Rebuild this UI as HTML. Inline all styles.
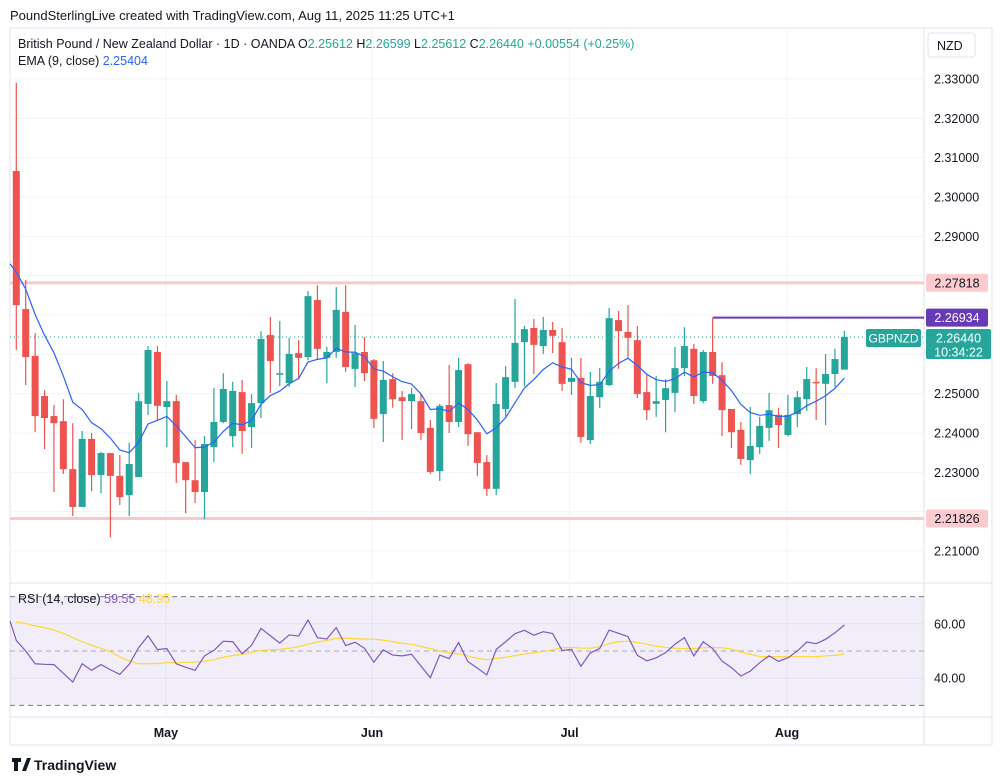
<!DOCTYPE html>
<html><head><meta charset="utf-8">
<style>
body{margin:0;background:#fff;font-family:"Liberation Sans",sans-serif;}
#wrap{position:relative;width:1006px;height:781px;overflow:hidden;background:#fff}
svg text{font-family:"Liberation Sans",sans-serif}
</style></head><body>
<div id="wrap">
<svg id="chart" width="1006" height="781"></svg>
</div>
<script>
const opens =[2.3066,2.2715,2.2596,2.2494,2.2443,2.2430,2.2308,2.2212,2.2385,2.2293,2.2349,2.2291,2.2242,2.2288,2.2474,2.2606,2.2466,2.2481,2.2326,2.2280,2.2250,2.2364,2.2428,2.2392,2.2504,2.2415,2.2476,2.2649,2.2552,2.2527,2.2603,2.2593,2.2738,2.2591,2.2606,2.2708,2.2563,2.2606,2.2585,2.2448,2.2537,2.2491,2.2481,2.2481,2.2413,2.2303,2.2471,2.2428,2.2575,2.2402,2.2326,2.2258,2.2461,2.2530,2.2631,2.2667,2.2621,2.2662,2.2631,2.2530,2.2540,2.2382,2.2491,2.2522,2.2687,2.2657,2.2636,2.2504,2.2474,2.2484,2.2502,2.2565,2.2614,2.2481,2.2606,2.2547,2.2461,2.2408,2.2331,2.2364,2.2413,2.2446,2.2395,2.2448,2.2486,2.2530,2.2525,2.2550,2.25612];
const highs =[2.3290,2.2789,2.2654,2.2509,2.2471,2.2486,2.2425,2.2405,2.2400,2.2352,2.2349,2.2344,2.2375,2.2502,2.2621,2.2621,2.2532,2.2497,2.2326,2.2382,2.2392,2.2514,2.2552,2.2530,2.2535,2.2499,2.2659,2.2695,2.2685,2.2642,2.2636,2.2761,2.2776,2.2619,2.2771,2.2776,2.2675,2.2644,2.2588,2.2583,2.2552,2.2507,2.2514,2.2499,2.2433,2.2474,2.2573,2.2591,2.2578,2.2402,2.2344,2.2527,2.2570,2.2741,2.2672,2.2690,2.2695,2.2682,2.2667,2.2591,2.2591,2.2555,2.2565,2.2718,2.2710,2.2725,2.2672,2.2552,2.2545,2.2537,2.2619,2.2669,2.2626,2.2611,2.2692,2.2580,2.2461,2.2428,2.2466,2.2441,2.2502,2.2464,2.2497,2.2507,2.2568,2.2565,2.2601,2.2614,2.26599];
const lows  =[2.2611,2.2522,2.2402,2.2359,2.2250,2.2296,2.2189,2.2212,2.2252,2.2247,2.2135,2.2217,2.2189,2.2288,2.2446,2.2433,2.2364,2.2273,2.2196,2.2222,2.2181,2.2326,2.2425,2.2364,2.2347,2.2362,2.2438,2.2502,2.2519,2.2517,2.2537,2.2585,2.2588,2.2527,2.2591,2.2555,2.2517,2.2532,2.2413,2.2377,2.2464,2.2382,2.2410,2.2382,2.2296,2.2278,2.2400,2.2415,2.2367,2.2291,2.2240,2.2242,2.2443,2.2514,2.2519,2.2550,2.2601,2.2603,2.2507,2.2497,2.2375,2.2372,2.2464,2.2519,2.2563,2.2591,2.2489,2.2433,2.2441,2.2402,2.2453,2.2545,2.2474,2.2476,2.2525,2.2392,2.2362,2.2319,2.2296,2.2347,2.2380,2.2362,2.2392,2.2415,2.2456,2.2433,2.2420,2.2517,2.25612];
const closes=[2.2725,2.2593,2.2443,2.2438,2.2425,2.2308,2.2212,2.2385,2.2293,2.2349,2.2291,2.2237,2.2321,2.2481,2.2611,2.2469,2.2481,2.2324,2.2280,2.2250,2.2372,2.2428,2.2512,2.2507,2.2405,2.2476,2.2639,2.2583,2.2552,2.2601,2.2591,2.2748,2.2614,2.2606,2.2713,2.2568,2.2603,2.2552,2.2436,2.2535,2.2486,2.2481,2.2499,2.2400,2.2301,2.2469,2.2428,2.2560,2.2397,2.2324,2.2258,2.2474,2.2542,2.2629,2.2664,2.2624,2.2662,2.2647,2.2525,2.2540,2.2390,2.2494,2.2530,2.2692,2.2659,2.2642,2.2499,2.2458,2.2481,2.2514,2.2565,2.2621,2.2494,2.2606,2.2545,2.2458,2.2402,2.2334,2.2367,2.2418,2.2458,2.2420,2.2446,2.2491,2.2537,2.2527,2.2550,2.2588,2.26440];
const emaSeed = 2.2830;
const rsiValues=[53.9,50.0,45.3,45.1,45.0,41.8,38.6,45.3,42.9,45.0,43.1,41.4,45.1,51.2,55.6,50.5,50.9,45.3,44.0,42.9,48.2,50.2,53.6,53.4,49.0,52.1,58.3,55.6,52.9,55.9,55.5,61.4,54.9,54.4,58.6,52.0,53.2,51.0,45.9,50.4,48.5,48.2,48.8,44.5,40.2,48.5,47.2,53.1,46.1,43.7,41.2,50.6,53.4,56.4,57.6,55.8,57.1,56.4,50.2,50.6,44.4,49.3,50.9,57.7,56.5,55.3,48.4,46.4,47.5,49.4,52.5,54.9,48.2,53.4,50.9,46.3,43.9,40.8,42.6,45.7,48.2,46.2,47.5,50.0,53.3,52.7,54.3,56.7,59.55];
const rsiMA=[60.7,60.1,59.2,58.6,57.7,56.5,54.9,53.4,52.1,51.0,49.8,47.8,46.3,45.3,45.3,45.4,45.7,45.7,45.8,45.9,46.3,46.8,47.7,48.3,48.8,49.5,50.2,50.4,50.6,51.0,51.6,52.5,53.3,53.9,54.7,54.7,54.5,54.4,54.3,54.0,53.4,52.8,52.5,51.7,50.9,50.0,49.4,49.0,48.2,47.3,46.8,47.2,47.7,48.3,48.9,49.4,49.8,50.4,51.2,51.3,51.1,51.0,51.6,52.7,53.4,53.6,53.1,52.5,51.8,51.3,51.0,50.9,50.9,51.2,51.3,51.2,50.7,49.6,48.8,48.0,47.9,47.9,47.9,47.9,47.9,47.9,48.2,48.4,48.95];
const rsiStart=61.0;
const priceTicks=[2.21,2.22,2.23,2.24,2.25,2.26,2.27,2.28,2.29,2.30,2.31,2.32,2.33];
const hiddenTicks=[2.22,2.26,2.27,2.28];
const rsiTicks=[60,40];
const monthLabels=["May","Jun","Jul","Aug"];
const monthIndex=[15.9,37.8,58.8,81.9];
const levels=[2.27818,2.21826];
const purpleLevel=2.26934, purpleStart=75;

const NS="http://www.w3.org/2000/svg";
const svg=document.getElementById('chart');
function el(t,a,p){const e=document.createElementNS(NS,t);for(const k in a)e.setAttribute(k,a[k]);(p||svg).appendChild(e);return e;}
const X0=16.3, DX=9.41;
const xs=i=>X0+i*DX;
const y=p=>79+(2.33-p)*3933.3;
const ry=v=>651-(v-50)*2.72;
const R=924;

let g=el('g',{});
el('rect',{x:10,y:28,width:982,height:717,fill:'none',stroke:'#e0e3eb'},g);
el('line',{x1:R,y1:28,x2:R,y2:745,stroke:'#e0e3eb'},g);
el('line',{x1:10,y1:583,x2:992,y2:583,stroke:'#e0e3eb'},g);
el('line',{x1:10,y1:717,x2:992,y2:717,stroke:'#e0e3eb'},g);
priceTicks.forEach(p=>{
  const l=el('line',{x1:10,y1:y(p),x2:R,y2:y(p),stroke:'#f0f3fa'});
  
  if(!hiddenTicks.includes(p)){const t=el('text',{x:934,y:y(p)+4.5,'font-size':12.5,fill:'#131722'});t.textContent=p.toFixed(5);
  }
});
monthLabels.forEach((m,i)=>{
  const x=xs(monthIndex[i]);
  const l=el('line',{x1:x,y1:28,x2:x,y2:717,stroke:'#f0f3fa'});
  
  const t=el('text',{x:x,y:737,'font-size':12.5,'font-weight':'bold',fill:'#131722','text-anchor':'middle'});t.textContent=m;
  
});
levels.forEach(p=>{const l=el('line',{x1:10,y1:y(p),x2:R,y2:y(p),stroke:'#f9c8ca','stroke-width':3});
});
let pl=el('line',{x1:xs(purpleStart-1),y1:y(purpleLevel),x2:R,y2:y(purpleLevel),stroke:'#673ab7','stroke-width':2});

let cp=el('line',{x1:10,y1:y(closes[closes.length-1]),x2:R,y2:y(closes[closes.length-1]),stroke:'#26a69a','stroke-dasharray':'1 3'});

closes.forEach((c,i)=>{
  const o=opens[i],up=c>=o,col=up?'#26a69a':'#ef5350',x=xs(i);
  const cg=el('g',{});
  
  el('line',{x1:x,y1:y(highs[i]),x2:x,y2:y(lows[i]),stroke:col,'stroke-width':1.2},cg);
  const t=Math.min(y(o),y(c)),h=Math.max(1.5,Math.abs(y(o)-y(c)));
  el('rect',{x:x-3.5,y:t,width:7,height:h,fill:col},cg);
});
let e=emaSeed,pts=[[10,y(e)]];const k=2/10;
closes.forEach((c,i)=>{e=c*k+e*(1-k);pts.push([xs(i),y(e)]);});
let ema=el('polyline',{points:pts.map(p=>p.join(',')).join(' '),fill:'none',stroke:'#2962ff','stroke-width':1.2});

let band=el('rect',{x:10,y:ry(70),width:R-10,height:ry(30)-ry(70),fill:'#7e57c2','fill-opacity':0.1});

[[70,'#787b86','5 4'],[30,'#787b86','5 4'],[50,'#a8abb5','5 4']].forEach(d=>{
  const l=el('line',{x1:10,y1:ry(d[0]),x2:R,y2:ry(d[0]),stroke:d[1],'stroke-dasharray':d[2]});
  });
rsiTicks.forEach(v=>{const l=el('line',{x1:10,y1:ry(v),x2:R,y2:ry(v),stroke:'#e6e1f0'});
  
  const t=el('text',{x:934,y:ry(v)+4.5,'font-size':12.5,fill:'#131722'});t.textContent=v.toFixed(2);
  });
let ma=el('polyline',{points:rsiMA.map((v,i)=>xs(i)+','+ry(v)).join(' '),fill:'none',stroke:'#fdd835','stroke-width':1.2});

let rl=el('polyline',{points:'10,'+ry(rsiStart)+' '+rsiValues.map((v,i)=>xs(i)+','+ry(v)).join(' '),fill:'none',stroke:'#7e57c2','stroke-width':1.2});


function box(x,yy,w,h,fill,txt,tc,name,fs){
  const bg=el('g',{});
  el('rect',{x:x,y:yy,width:w,height:h,fill:fill,rx:2},bg);
  txt.forEach((s,i)=>{const t=el('text',{x:x+w/2,y:yy+13.5+i*14,'font-size':fs||12.5,fill:tc,'text-anchor':'middle'},bg);t.textContent=s;});
}
const lc=closes[closes.length-1];
box(926,y(levels[0])-9,62,18,'#fccbcd',[levels[0].toFixed(5)],'#131722','level-price-label');
box(926,y(purpleLevel)-9,62,18,'#673ab7',[purpleLevel.toFixed(5)],'#fff','purple-price-label');
box(926,y(lc)-8,65,30,'#26a69a',[lc.toFixed(5),'10:34:22'],'#fff','last-price-label');
box(866,y(lc)-8,55,18,'#26a69a',['GBPNZD'],'#fff','symbol-label',12);
box(926,y(levels[1])-9,62,18,'#fccbcd',[levels[1].toFixed(5)],'#131722','support-price-label');

let nz=el('g',{});
el('rect',{x:928,y:33,width:47,height:24,fill:'#fff',stroke:'#e0e3eb',rx:3},nz);
let nt=el('text',{x:937,y:50,'font-size':12.5,fill:'#131722'},nz);nt.textContent='NZD';

function txt(x,yy,s,size,fill,name){const t=el('text',{x:x,y:yy,'font-size':size,fill:fill});t.innerHTML=s;return t;}
txt(10,20,'PoundSterlingLive created with TradingView.com, Aug 11, 2025 11:25 UTC+1',13,'#131722','attribution');
txt(18,48,'British Pound / New Zealand Dollar · 1D · OANDA  O<tspan fill="#26a69a">2.25612</tspan> H<tspan fill="#26a69a">2.26599</tspan> L<tspan fill="#26a69a">2.25612</tspan> C<tspan fill="#26a69a">2.26440</tspan> <tspan fill="#26a69a">+0.00554 (+0.25%)</tspan>',12.5,'#131722','symbol-legend');
txt(18,65,'EMA (9, close) <tspan fill="#2962ff">2.25404</tspan>',12.5,'#131722','ema-legend');
txt(18,603,'RSI (14, close) <tspan fill="#7e57c2">59.55</tspan> <tspan fill="#fdd835">48.95</tspan>',12.5,'#131722','rsi-legend');
let logo=el('g',{});
el('path',{d:'M12 758h9v4h-3v9h-4v-9h-2z M22 771l5-13h4l-5 13z',fill:'#131722'},logo);
let lt=el('text',{x:34,y:770,'font-size':14,'font-weight':'bold',fill:'#131722'},logo);lt.textContent='TradingView';
</script>
</body></html>
